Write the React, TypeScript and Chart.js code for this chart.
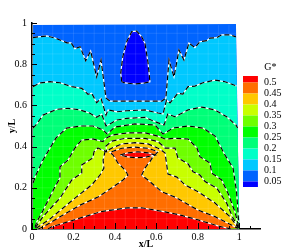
import { useEffect, useRef } from "react";
import { Chart, registerables } from "chart.js";

Chart.register(...registerables);

type P = number[];

const domain: P[] = [[0.005, 0.99], [0.984, 0.995], [1.0, 0], [0.005, 0]];
const bottomClose: P[] = [[1.0, 0], [0.005, 0]];

const contour005: P[] = [[0.433, 0.715], [0.428, 0.757], [0.438, 0.836], [0.457, 0.909], [0.481, 0.958], [0.505, 0.961], [0.529, 0.933], [0.545, 0.901], [0.56, 0.806], [0.569, 0.715], [0.545, 0.709], [0.497, 0.704], [0.449, 0.709], [0.433, 0.715]];
const contour010: P[] = [[0.005, 0.929], [0.029, 0.933], [0.072, 0.937], [0.111, 0.927], [0.169, 0.904], [0.188, 0.904], [0.207, 0.875], [0.232, 0.885], [0.259, 0.817], [0.283, 0.864], [0.312, 0.738], [0.333, 0.82], [0.357, 0.636], [0.376, 0.621], [0.439, 0.621], [0.545, 0.621], [0.627, 0.621], [0.646, 0.636], [0.661, 0.82], [0.685, 0.738], [0.709, 0.869], [0.733, 0.82], [0.757, 0.903], [0.786, 0.88], [0.81, 0.909], [0.843, 0.914], [0.859, 0.927], [0.891, 0.929], [0.915, 0.942], [0.955, 0.942], [0.984, 0.933]];
const contour015: P[] = [[0.005, 0.691], [0.039, 0.709], [0.087, 0.715], [0.135, 0.71], [0.192, 0.691], [0.24, 0.683], [0.27, 0.654], [0.288, 0.659], [0.312, 0.613], [0.333, 0.634], [0.357, 0.553], [0.367, 0.578], [0.41, 0.569], [0.458, 0.574], [0.545, 0.578], [0.608, 0.563], [0.632, 0.558], [0.649, 0.626], [0.666, 0.612], [0.704, 0.659], [0.728, 0.655], [0.753, 0.691], [0.786, 0.694], [0.825, 0.71], [0.883, 0.723], [0.931, 0.715], [0.987, 0.694]];
const contour020: P[] = [[0.005, 0.49], [0.023, 0.51], [0.053, 0.553], [0.119, 0.581], [0.174, 0.586], [0.232, 0.578], [0.28, 0.562], [0.312, 0.542], [0.336, 0.558], [0.357, 0.5], [0.376, 0.51], [0.409, 0.529], [0.457, 0.537], [0.545, 0.542], [0.593, 0.521], [0.637, 0.505], [0.655, 0.558], [0.69, 0.545], [0.753, 0.578], [0.819, 0.592], [0.883, 0.578], [0.939, 0.545], [0.984, 0.505], [0.992, 0.49]];
const contour025: P[] = [[0.005, 0.223], [0.019, 0.262], [0.053, 0.335], [0.101, 0.417], [0.116, 0.442], [0.167, 0.49], [0.232, 0.5], [0.294, 0.5], [0.343, 0.481], [0.362, 0.461], [0.4, 0.495], [0.497, 0.51], [0.593, 0.505], [0.632, 0.461], [0.642, 0.466], [0.68, 0.49], [0.753, 0.5], [0.825, 0.49], [0.883, 0.451], [0.931, 0.359], [0.97, 0.296], [0.987, 0.18], [0.997, 0.034]];
const contour030: P[] = [[0.014, 0.008], [0.023, 0.035], [0.047, 0.078], [0.087, 0.157], [0.111, 0.205], [0.135, 0.248], [0.135, 0.302], [0.174, 0.335], [0.207, 0.393], [0.24, 0.432], [0.294, 0.437], [0.343, 0.424], [0.352, 0.437], [0.386, 0.456], [0.463, 0.467], [0.545, 0.467], [0.608, 0.451], [0.642, 0.437], [0.69, 0.44], [0.753, 0.437], [0.796, 0.393], [0.81, 0.351], [0.859, 0.32], [0.867, 0.272], [0.915, 0.238], [0.945, 0.175], [0.979, 0.084], [0.997, 0.012]];
const contour035: P[] = [[0.016, 0.006], [0.053, 0.06], [0.135, 0.15], [0.192, 0.238], [0.24, 0.272], [0.24, 0.311], [0.294, 0.345], [0.299, 0.375], [0.318, 0.393], [0.36, 0.375], [0.357, 0.403], [0.386, 0.427], [0.449, 0.44], [0.545, 0.44], [0.608, 0.424], [0.632, 0.403], [0.642, 0.393], [0.69, 0.393], [0.704, 0.345], [0.753, 0.316], [0.777, 0.278], [0.81, 0.262], [0.835, 0.23], [0.891, 0.199], [0.939, 0.126], [0.97, 0.053], [0.997, 0.008]];
const contour040: P[] = [[0.02, 0.004], [0.087, 0.049], [0.15, 0.102], [0.216, 0.157], [0.288, 0.214], [0.328, 0.262], [0.347, 0.296], [0.343, 0.335], [0.352, 0.374], [0.386, 0.393], [0.433, 0.413], [0.497, 0.419], [0.56, 0.413], [0.617, 0.388], [0.642, 0.369], [0.65, 0.311], [0.656, 0.267], [0.699, 0.252], [0.738, 0.214], [0.801, 0.181], [0.883, 0.126], [0.955, 0.06], [0.99, 0.012], [0.997, 0.005]];
const contour045: P[] = [[0.03, 0], [0.055, 0.011], [0.125, 0.053], [0.232, 0.116], [0.318, 0.155], [0.384, 0.199], [0.439, 0.238], [0.463, 0.262], [0.449, 0.286], [0.415, 0.32], [0.391, 0.359], [0.376, 0.372], [0.384, 0.375], [0.433, 0.392], [0.497, 0.397], [0.56, 0.392], [0.608, 0.375], [0.584, 0.351], [0.569, 0.327], [0.545, 0.296], [0.529, 0.262], [0.569, 0.23], [0.626, 0.181], [0.69, 0.155], [0.801, 0.092], [0.883, 0.06], [0.963, 0.019], [0.993, 0.003]];
const contour050Lens: P[] = [[0.425, 0.359], [0.463, 0.37], [0.511, 0.375], [0.56, 0.37], [0.593, 0.359], [0.545, 0.348], [0.497, 0.346], [0.457, 0.351], [0.425, 0.359]];
const contour050Low: P[] = [[0.077, 0], [0.093, 0.01], [0.174, 0.035], [0.254, 0.06], [0.333, 0.084], [0.384, 0.092], [0.463, 0.103], [0.529, 0.103], [0.593, 0.092], [0.642, 0.083], [0.722, 0.066], [0.801, 0.044], [0.897, 0.015], [0.96, 0]];

const meshValues = [0.05, 0.1, 0.15, 0.2, 0.25, 0.3, 0.35, 0.4, 0.45, 0.5, 0.55, 0.6, 0.65, 0.7, 0.75, 0.8, 0.85, 0.9, 0.95];

const bandColors = ["#0000ff", "#0064ff", "#00c8ff", "#00ffc8", "#00ff78", "#00ff00", "#6eff00", "#c8ff00", "#ffc800", "#ff6e00", "#ff0000"];
const legendLevels = [0.5, 0.45, 0.4, 0.35, 0.3, 0.25, 0.2, 0.15, 0.1, 0.05];
const legendTickY = [0.711, 0.658, 0.604, 0.551, 0.497, 0.444, 0.391, 0.337, 0.284, 0.23];
const legendEdges = [0.743, ...legendTickY, 0.204];
const legendX = [1.018, 1.09];
const legendTitle = "G*";
const legendTitlePos = [1.15, 0.786];
const xTitle = "x/L";
const yTitle = "y/L";

const FONT = '"Liberation Serif", serif';

const toPts = (a: P[]) => a.map(([x, y]) => ({ x, y }));

function fillSet(a: P[], color: string) {
  return {
    type: "line" as const,
    data: toPts(a),
    backgroundColor: color,
    borderColor: color,
    borderWidth: 0,
    pointRadius: 0,
    tension: 0,
    fill: "shape",
    clip: false,
  };
}
function lineSet(a: P[], color: string, dash: number[], width: number) {
  return {
    type: "line" as const,
    data: toPts(a),
    borderColor: color,
    backgroundColor: color,
    borderWidth: width,
    borderDash: dash,
    pointRadius: 0,
    tension: 0,
    fill: false,
    clip: false,
  };
}

const tickPlugin = {
  id: "innerTicks",
  afterDatasetsDraw(chart: any) {
    const { ctx, scales } = chart;
    ctx.save();
    ctx.strokeStyle = "#000";
    ctx.lineWidth = 1;
    const isMajor = (v: number) => Math.abs(v / 0.2 - Math.round(v / 0.2)) < 1e-6;
    for (const t of scales.x.ticks) {
      if (t.value > 1.06) continue;
      const px = Math.round(scales.x.getPixelForValue(t.value)) + 0.5;
      const len = isMajor(t.value) ? 6 : 3;
      ctx.beginPath();
      ctx.moveTo(px, scales.x.top);
      ctx.lineTo(px, scales.x.top - len);
      ctx.stroke();
    }
    for (const t of scales.y.ticks) {
      const py = Math.round(scales.y.getPixelForValue(t.value)) + 0.5;
      const len = isMajor(t.value) ? 5 : 3;
      ctx.beginPath();
      ctx.moveTo(scales.y.right, py);
      ctx.lineTo(scales.y.right + len, py);
      ctx.stroke();
    }
    ctx.fillStyle = "#000";
    ctx.font = `10px ${FONT}`;
    ctx.textAlign = "center";
    ctx.textBaseline = "middle";
    ctx.fillText(legendTitle, scales.x.getPixelForValue(legendTitlePos[0]), scales.y.getPixelForValue(legendTitlePos[1]));
    ctx.restore();
  },
};

export default function App() {
  const ref = useRef<HTMLCanvasElement | null>(null);
  useEffect(() => {
    if (!ref.current) return;
    const polys: any[] = [
      fillSet(domain, bandColors[1]),
      fillSet(contour005, bandColors[0]),
      fillSet([...contour010, ...bottomClose], bandColors[2]),
      fillSet([...contour015, ...bottomClose], bandColors[3]),
      fillSet([...contour020, ...bottomClose], bandColors[4]),
      fillSet([...contour025, ...bottomClose], bandColors[5]),
      fillSet(contour030, bandColors[6]),
      fillSet(contour035, bandColors[7]),
      fillSet(contour040, bandColors[8]),
      fillSet(contour045, bandColors[9]),
      fillSet(contour050Lens, bandColors[10]),
      fillSet(contour050Low, bandColors[10]),
    ];
    const meshColor = "rgba(255,255,255,0.1)";
    const mesh = meshValues.flatMap((v) => [
      lineSet([[v, 0], [v + (0.99 - v) * 0 , 0.99]], meshColor, [], 1),
      lineSet([[0.005, v], [0.99, v]], meshColor, [], 1),
    ]);
    const all = [contour005, contour010, contour015, contour020, contour025, contour030, contour035, contour040, contour045, contour050Lens, contour050Low];
    const whites = all.map((c) => lineSet(c, "#ffffff", [], 1.2));
    const blacks = all.map((c) => lineSet(c, "#000000", [5, 3], 1.2));
    const legendBars = bandColors
      .slice()
      .reverse()
      .map((color, i) =>
        fillSet(
          [
            [legendX[0], legendEdges[i]],
            [legendX[1], legendEdges[i]],
            [legendX[1], legendEdges[i + 1]],
            [legendX[0], legendEdges[i + 1]],
          ],
          color
        )
      );
    const datasets = [...polys, ...mesh, ...whites, ...blacks, ...legendBars].map((d, i, arr) => ({ ...d, order: arr.length - i }));

    const tickFont = { family: FONT, size: 10 };
    const chart = new Chart(ref.current, {
      type: "line",
      data: { datasets },
      plugins: [tickPlugin],
      options: {
        responsive: false,
        animation: false,
        layout: { padding: { top: 23, left: 0, right: 0, bottom: 0 } },
        plugins: { legend: { display: false }, tooltip: { enabled: false } },
        scales: {
          x: {
            type: "linear",
            min: 0,
            max: 1.1,
            border: { display: true, color: "#000", width: 1.5 },
            grid: { display: false, drawTicks: false },
            ticks: {
              stepSize: 0.05,
              autoSkip: false,
              maxRotation: 0,
              color: "#000",
              font: tickFont,
              padding: 2,
              callback: (v: any) => {
                const n = Number(v);
                return Math.abs(n / 0.2 - Math.round(n / 0.2)) < 1e-6 && n <= 1 ? String(+n.toFixed(1)) : "";
              },
            },
            title: { display: true, text: xTitle, color: "#000", font: { family: FONT, size: 10, weight: "bold" }, padding: 0 },
            afterFit: (s: any) => { s.height = 21; },
          },
          y: {
            type: "linear",
            position: "left",
            min: 0,
            max: 1,
            border: { display: true, color: "#000", width: 1.5 },
            grid: { display: false, drawTicks: false },
            ticks: {
              stepSize: 0.05,
              autoSkip: false,
              color: "#000",
              font: tickFont,
              padding: 5,
              callback: (v: any) => {
                const n = Number(v);
                return Math.abs(n / 0.2 - Math.round(n / 0.2)) < 1e-6 ? String(+n.toFixed(1)) : "";
              },
            },
            title: { display: true, text: yTitle, color: "#000", font: { family: FONT, size: 10, weight: "bold" }, padding: { top: 6, bottom: 0 } },
            afterFit: (s: any) => { s.width = 32; },
          },
          yLegend: {
            type: "linear",
            position: "right",
            min: 0,
            max: 1,
            border: { display: false },
            grid: { display: false, drawTicks: false },
            afterBuildTicks: (s: any) => {
              s.ticks = legendTickY.map((value) => ({ value }));
            },
            ticks: {
              autoSkip: false,
              color: "#000",
              font: tickFont,
              padding: 4,
              callback: (v: any) => {
                const i = legendTickY.indexOf(Number(v));
                return i >= 0 ? String(legendLevels[i]) : "";
              },
            },
            afterFit: (s: any) => { s.width = 31; },
          },
        },
      } as any,
    } as any);
    return () => chart.destroy();
  }, []);
  return (
    <canvas
      ref={ref}
      width={291}
      height={250}
      style={{ position: "fixed", left: 0, top: 0, width: 291, height: 250, background: "#fff", display: "block" }}
    />
  );
}
